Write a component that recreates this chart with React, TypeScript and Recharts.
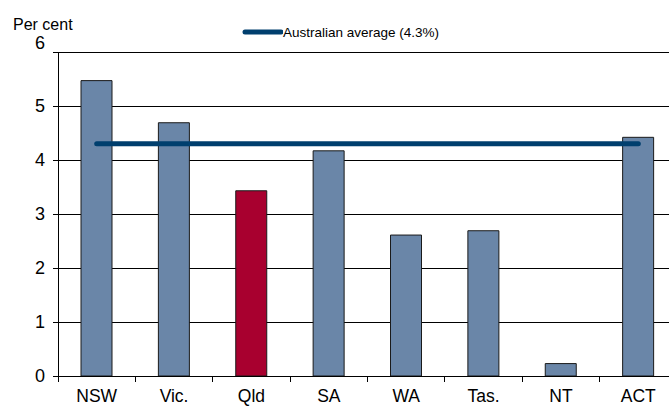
import { ComposedChart, Bar, Line, XAxis, YAxis, CartesianGrid, Cell } from 'recharts';

const states = ['NSW', 'Vic.', 'Qld', 'SA', 'WA', 'Tas.', 'NT', 'ACT'];
const shares = [5.47, 4.69, 3.43, 4.17, 2.61, 2.69, 0.23, 4.42];
const australianAverage = 4.3;
const yTicks = [0, 1, 2, 3, 4, 5, 6];

const BAR_COLOR = '#6A86A8';
const HIGHLIGHT = '#A8002F';
const LINE_COLOR = '#003F6E';
const FONT = "Arial, 'Liberation Sans', sans-serif";

const data = states.map((s, i) => ({
  state: s,
  share: shares[i],
  average: australianAverage,
}));

const CHART_W = 690;
const MARGIN = { top: 52, right: 13, left: 18, bottom: 0 };
const Y_WIDTH = 40;
const BAND = (CHART_W - MARGIN.left - MARGIN.right - Y_WIDTH) / states.length;

// tick marks sit on the category boundaries, not the centres
const StateTick = ({ x, y, payload }: any) => (
  <g>
    <line x1={x - BAND / 2} x2={x - BAND / 2} y1={y - 8} y2={y - 2} stroke="#000" shapeRendering="crispEdges" />
    <text x={x} y={y + 18} textAnchor="middle" fontSize={17.5} fill="#000" fontFamily={FONT}>
      {payload.value}
    </text>
  </g>
);

const ValueTick = ({ x, y, payload }: any) => (
  <text
    x={x - 6}
    y={y + 6 - (payload.value === 6 ? 9 : 0)}
    textAnchor="end"
    fontSize={18}
    fill="#000"
    fontFamily={FONT}
  >
    {payload.value}
  </text>
);

export default function App() {
  return (
    <div style={{ position: 'absolute', left: 0, top: 0, width: 669, height: 406, overflow: 'hidden', background: '#fff' }}>
      <style>{`.recharts-cartesian-grid line, .recharts-cartesian-axis-line, .recharts-cartesian-axis-tick-line { shape-rendering: crispEdges; }`}</style>
      <div style={{ position: 'absolute', left: 13, top: 17, fontSize: 16, lineHeight: 1, fontFamily: FONT, color: '#000' }}>
        Per cent
      </div>
      <div
        style={{
          position: 'absolute',
          left: 241,
          top: 24,
          height: 16,
          display: 'flex',
          alignItems: 'center',
          fontFamily: FONT,
          fontSize: 13.5,
          color: '#000',
          zIndex: 2,
        }}
      >
        <svg width={42} height={8}>
          <line x1={4} x2={40} y1={4} y2={4} stroke={LINE_COLOR} strokeWidth={5} strokeLinecap="round" />
        </svg>
        <span>Australian average (4.3%)</span>
      </div>
      <ComposedChart width={CHART_W} height={406} data={data} margin={MARGIN}>
        <CartesianGrid vertical={false} stroke="#000" strokeWidth={1} />
        <XAxis
          dataKey="state"
          height={30}
          stroke="#000"
          tickLine={false}
          tick={<StateTick />}
          interval={0}
        />
        <YAxis
          domain={[0, 6]}
          ticks={yTicks}
          width={Y_WIDTH}
          stroke="#000"
          tickSize={5}
          tick={<ValueTick />}
        />
        <Bar dataKey="share" barSize={31} stroke="#1a1a1a" strokeWidth={1} isAnimationActive={false}>
          {data.map((d, i) => (
            <Cell key={`c-${i}`} fill={d.state === 'Qld' ? HIGHLIGHT : BAR_COLOR} />
          ))}
        </Bar>
        <Line
          dataKey="average"
          stroke={LINE_COLOR}
          strokeWidth={5}
          strokeLinecap="round"
          dot={false}
          activeDot={false}
          isAnimationActive={false}
        />
      </ComposedChart>
    </div>
  );
}
